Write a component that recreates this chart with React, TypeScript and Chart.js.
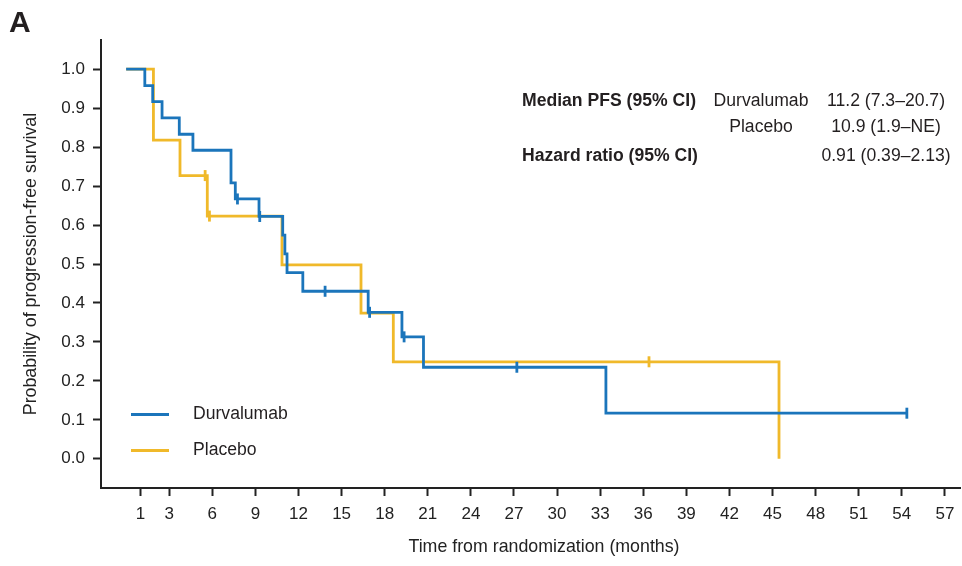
import React, { useEffect, useRef } from 'react';
import { Chart, registerables } from 'chart.js';

Chart.register(...registerables);

// ---- Data ----
const xTickValues = [1, 3, 6, 9, 12, 15, 18, 21, 24, 27, 30, 33, 36, 39, 42, 45, 48, 51, 54, 57];
const yTickValues = [0, 0.1, 0.2, 0.3, 0.4, 0.5, 0.6, 0.7, 0.8, 0.9, 1.0];

// Durvalumab Kaplan-Meier steps (time in months, survival probability)
const durvaTimes = [0, 1.3, 1.85, 2.5, 3.7, 4.65, 7.3, 7.6, 9.25, 10.9, 11.05, 11.2, 12.3, 16.85, 19.2, 20.7, 33.4, 54.35];
const durvaSurv = [1.0, 0.958, 0.917, 0.875, 0.833, 0.792, 0.708, 0.667, 0.622, 0.574, 0.526, 0.478, 0.43, 0.376, 0.313, 0.235, 0.117, 0.117];
const durvaCensorTimes = [7.75, 9.3, 13.85, 16.95, 19.35, 27.2, 54.35];
const durvaCensorSurv = [0.667, 0.622, 0.43, 0.376, 0.313, 0.235, 0.117];

// Placebo Kaplan-Meier steps
const placeboTimes = [0, 1.9, 3.75, 5.65, 10.85, 16.35, 18.6, 45.45];
const placeboSurv = [1.0, 0.818, 0.727, 0.623, 0.498, 0.374, 0.249, 0.0];
const placeboCensorTimes = [5.5, 5.8, 36.4];
const placeboCensorSurv = [0.727, 0.623, 0.249];

const BLUE = '#1b75bb';
const YELLOW = '#f0b92a';
const INK = '#231f20';
const FONT = '"Liberation Sans", Arial, Helvetica, sans-serif';

const zip = (xs: number[], ys: number[]) => xs.map((x, i) => ({ x, y: ys[i] }));

export default function App() {
  const ref = useRef<HTMLCanvasElement | null>(null);

  useEffect(() => {
    if (!ref.current) return;
    const chart = new Chart(ref.current, {
      type: 'line',
      data: {
        datasets: [
          {
            label: 'Durvalumab censored',
            data: zip(durvaCensorTimes, durvaCensorSurv),
            showLine: false,
            pointStyle: 'line',
            pointRotation: 90,
            pointRadius: 5.5,
            pointBorderWidth: 2.8,
            pointBorderColor: BLUE,
            pointBackgroundColor: BLUE,
            borderColor: BLUE,
          } as any,
          {
            label: 'Durvalumab',
            data: zip(durvaTimes, durvaSurv),
            stepped: true,
            borderColor: BLUE,
            borderWidth: 2.8,
            pointRadius: 0,
            fill: false,
          },
          {
            label: 'Placebo censored',
            data: zip(placeboCensorTimes, placeboCensorSurv),
            showLine: false,
            pointStyle: 'line',
            pointRotation: 90,
            pointRadius: 5.5,
            pointBorderWidth: 2.8,
            pointBorderColor: YELLOW,
            pointBackgroundColor: YELLOW,
            borderColor: YELLOW,
          } as any,
          {
            label: 'Placebo',
            data: zip(placeboTimes, placeboSurv),
            stepped: true,
            borderColor: YELLOW,
            borderWidth: 2.8,
            pointRadius: 0,
            fill: false,
          },
        ],
      },
      options: {
        responsive: false,
        animation: false,
        devicePixelRatio: 1,
        layout: { autoPadding: false, padding: { left: 0, top: 40, right: 2, bottom: 0 } },
        plugins: {
          legend: { display: false },
          tooltip: { enabled: false },
        },
        scales: {
          x: {
            type: 'linear',
            min: -1.75,
            max: 58.05,
            afterBuildTicks: (scale: any) => {
              scale.ticks = xTickValues.map((v) => ({ value: v }));
            },
            afterFit: (scale: any) => {
              scale.height = 78;
              scale.paddingLeft = 0;
              scale.paddingRight = 0;
            },
            ticks: {
              autoSkip: false,
              maxRotation: 0,
              padding: 8,
              color: '#222',
              font: { family: FONT, size: 17 },
              callback: (v: any) => String(v),
            },
            grid: {
              display: true,
              drawOnChartArea: false,
              drawTicks: true,
              tickLength: 8,
              tickColor: '#222',
              tickWidth: 2,
            },
            border: { display: true, color: '#222', width: 2 },
            title: { display: false },
          },
          y: {
            type: 'linear',
            min: -0.075,
            max: 1.075,
            afterBuildTicks: (scale: any) => {
              scale.ticks = yTickValues.map((v) => ({ value: v }));
            },
            afterFit: (scale: any) => {
              scale.width = 101;
              scale.paddingTop = 0;
              scale.paddingBottom = 0;
            },
            ticks: {
              padding: 8,
              color: '#222',
              font: { family: FONT, size: 17 },
              callback: (v: any) => Number(v).toFixed(1),
            },
            grid: {
              display: true,
              drawOnChartArea: false,
              drawTicks: true,
              tickLength: 8,
              tickColor: '#222',
              tickWidth: 2,
            },
            border: { display: true, color: '#222', width: 2 },
            title: {
              display: true,
              text: 'Probability of progression-free survival',
              color: '#222',
              font: { family: FONT, size: 17.8 },
              padding: { top: 20, bottom: 0 },
            },
          },
        },
      },
    });
    return () => chart.destroy();
  }, []);

  const txt = (fontSize: number, bold = false): React.CSSProperties => ({
    position: 'absolute',
    fontSize,
    lineHeight: `${fontSize}px`,
    fontWeight: bold ? 700 : 400,
    whiteSpace: 'nowrap',
    color: INK,
  });

  return (
    <div
      style={{
        position: 'fixed',
        left: 0,
        top: 0,
        width: 962,
        height: 566,
        background: '#fff',
        fontFamily: FONT,
        overflow: 'hidden',
      }}
    >
      <canvas
        ref={ref}
        width={962}
        height={566}
        style={{ position: 'absolute', left: 0, top: 0, width: 962, height: 566 }}
      />
      {/* Panel letter */}
      <div style={{ ...txt(30, true), left: 9, top: 7 }}>A</div>

      {/* Annotation table */}
      <div style={{ ...txt(17.6, true), left: 522, top: 92 }}>Median PFS (95% CI)</div>
      <div style={{ ...txt(17.6), left: 661, width: 200, top: 92, textAlign: 'center' }}>Durvalumab</div>
      <div style={{ ...txt(17.6), left: 786, width: 200, top: 92, textAlign: 'center' }}>11.2 (7.3–20.7)</div>
      <div style={{ ...txt(17.6), left: 661, width: 200, top: 118, textAlign: 'center' }}>Placebo</div>
      <div style={{ ...txt(17.6), left: 786, width: 200, top: 118, textAlign: 'center' }}>10.9 (1.9–NE)</div>
      <div style={{ ...txt(17.6, true), left: 522, top: 147 }}>Hazard ratio (95% CI)</div>
      <div style={{ ...txt(17.6), left: 786, width: 200, top: 147, textAlign: 'center' }}>0.91 (0.39–2.13)</div>

      {/* Legend */}
      <div style={{ position: 'absolute', left: 131, top: 413, width: 38, height: 2.8, background: BLUE }} />
      <div style={{ ...txt(17.6), left: 193, top: 405 }}>Durvalumab</div>
      <div style={{ position: 'absolute', left: 131, top: 449, width: 38, height: 2.8, background: YELLOW }} />
      <div style={{ ...txt(17.6), left: 193, top: 441 }}>Placebo</div>

      {/* X axis title */}
      <div style={{ ...txt(17.8), left: 344, width: 400, top: 538, textAlign: 'center', color: '#222' }}>
        Time from randomization (months)
      </div>
    </div>
  );
}
